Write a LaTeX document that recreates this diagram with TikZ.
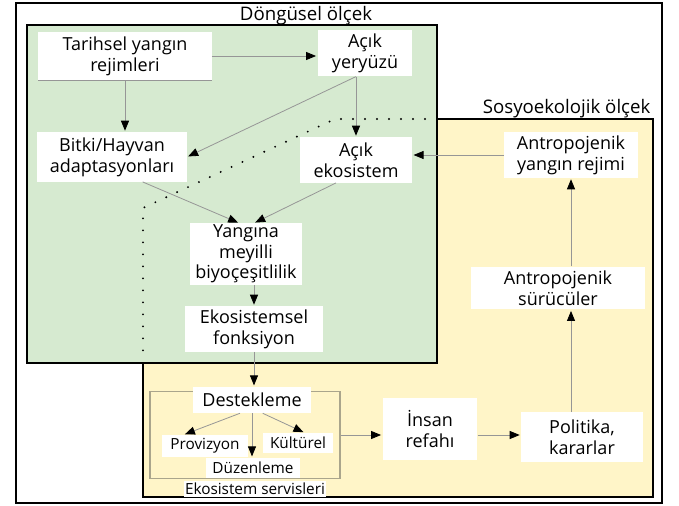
\documentclass[tikz,border=0pt]{standalone}
\usepackage{fontspec}
\setmainfont{Open Sans}
\usetikzlibrary{positioning, arrows.meta}
\definecolor{greenbg}{RGB}{214,234,208}
\definecolor{yellowbg}{RGB}{255,245,200}
\definecolor{linegray}{RGB}{150,150,150}
\definecolor{servgray}{RGB}{170,165,140}

\begin{document}
\begin{tikzpicture}[
    x=0.75pt, y=-0.75pt,
    box/.style={
        rectangle,
        fill=white,
        inner sep=1pt,
        align=center,
        font=\fontsize{13.5}{15.5}\selectfont
    },
    smallbox/.style={
        box,
        font=\fontsize{11.5}{13}\selectfont
    },
    arrow/.style={
        draw=linegray,
        line width=0.6pt,
        -{Triangle[length=7.5pt, width=6pt, color=black]},
        shorten >=1pt
    },
    frame/.style={
        draw=black,
        line width=1.2pt
    },
    scalelabel/.style={
        inner sep=1pt,
        font=\fontsize{14}{16}\selectfont
    }
]
\useasboundingbox (0,0) rectangle (679,506);

% Outer frame
\draw[line width=1.4pt] (16,3) rectangle (662,503);

% Scales (yellow below, green on top)
\draw[frame, fill=yellowbg] (143,119) rectangle (653,497);
\draw[frame, fill=greenbg] (27,25) rectangle (437,363);
\node[scalelabel, anchor=base] (dongusel) at (306,21) {Döngüsel ölçek};
\node[scalelabel, anchor=base east] (sosyo) at (652,114) {Sosyoekolojik ölçek};

% Dotted border of the socio-ecological scale
\draw[line width=1.6pt, line cap=round, dash pattern=on 0pt off 9pt]
    (425,119) -- (335,119) -- (143,208) -- (143,352);

% Cyclic scale
\node[box, minimum width=130pt, minimum height=36pt] (tarihsel) at (125,56) {Tarihsel yangın\\rejimleri};
\node[box, minimum width=71pt, minimum height=35pt] (yeryuzu) at (365,53) {Açık\\yeryüzü};
\node[box, minimum width=112pt, minimum height=37pt] (bitki) at (112,157) {Bitki/Hayvan\\adaptasyonları};
\node[box, minimum width=84pt, minimum height=34pt] (ekosistem) at (356,160) {Açık\\ekosistem};
\node[box, minimum width=84pt, minimum height=44pt] (yangina) at (246,254) {Yangına\\meyilli\\biyoçeşitlilik};
\node[box, minimum width=103pt, minimum height=34pt] (fonksiyon) at (254,329) {Ekosistemsel\\fonksiyon};

% Ecosystem services
\node[draw=servgray, line width=0.8pt, minimum width=142.5pt, minimum height=65pt] (servis) at (245,435) {};
\node[box, minimum width=89pt, minimum height=19.5pt] (dest) at (252,400) {Destekleme};
\node[smallbox, minimum width=64pt, minimum height=16.5pt] (prov) at (205,446) {Provizyon};
\node[smallbox, minimum width=52pt, minimum height=15pt] (kult) at (298,443) {Kültürel};
\node[smallbox, minimum width=70pt, minimum height=15pt] (duz) at (253,468) {Düzenleme};
\node[smallbox, minimum width=105pt, minimum height=12pt] (servislabel) at (255,489) {Ekosistem servisleri};

% Socio-ecological scale
\node[box, minimum width=71pt, minimum height=46pt] (insan) at (430,429) {İnsan\\refahı};
\node[box, minimum width=91pt, minimum height=37pt] (politika) at (582,437) {Politika,\\kararlar};
\node[box, minimum width=130pt, minimum height=32pt] (suruculer) at (558,288) {Antropojenik\\sürücüler};
\node[box, minimum width=100pt, minimum height=34pt] (rejimi) at (571,155) {Antropojenik\\yangın rejimi};

% Arrows
\draw[linegray, line width=0.6pt] (tarihsel.south west) -- (tarihsel.south east);
\draw[arrow] (tarihsel.east) -- (tarihsel.east -| yeryuzu.west);
\draw[arrow] (tarihsel.south) -- (tarihsel.south |- bitki.north);
\draw[arrow] (yeryuzu.south -| ekosistem.north) -- (bitki.east);
\draw[arrow] (yeryuzu.south -| ekosistem.north) -- (ekosistem.north);
\draw[arrow] (rejimi.west) -- (rejimi.west -| ekosistem.east);
\draw[arrow] ([xshift=23pt]bitki.south) -- ([xshift=-5pt]yangina.north);
\draw[arrow] ([xshift=-15pt]ekosistem.south) -- ([xshift=6pt]yangina.north);
\draw[arrow] (yangina.south -| fonksiyon.north) -- (fonksiyon.north);
\draw[arrow] (fonksiyon.south) -- (fonksiyon.south |- dest.north);
\draw[arrow] ([xshift=-9pt]dest.south) -- ([xshift=-16pt]prov.north);
\draw[arrow] ([xshift=8pt]dest.south) -- ([xshift=5pt]kult.north);
\draw[arrow] (dest.south) -- (dest.south |- duz.north);
\draw[arrow] (servis.east) -- (servis.east -| insan.west);
\draw[arrow] (insan.east |- servis.east) -- (servis.east -| politika.west);
\draw[arrow] (politika.north -| rejimi) -- (suruculer.south -| rejimi);
\draw[arrow] (suruculer.north -| rejimi) -- (rejimi.south);

\end{tikzpicture}
\end{document}
